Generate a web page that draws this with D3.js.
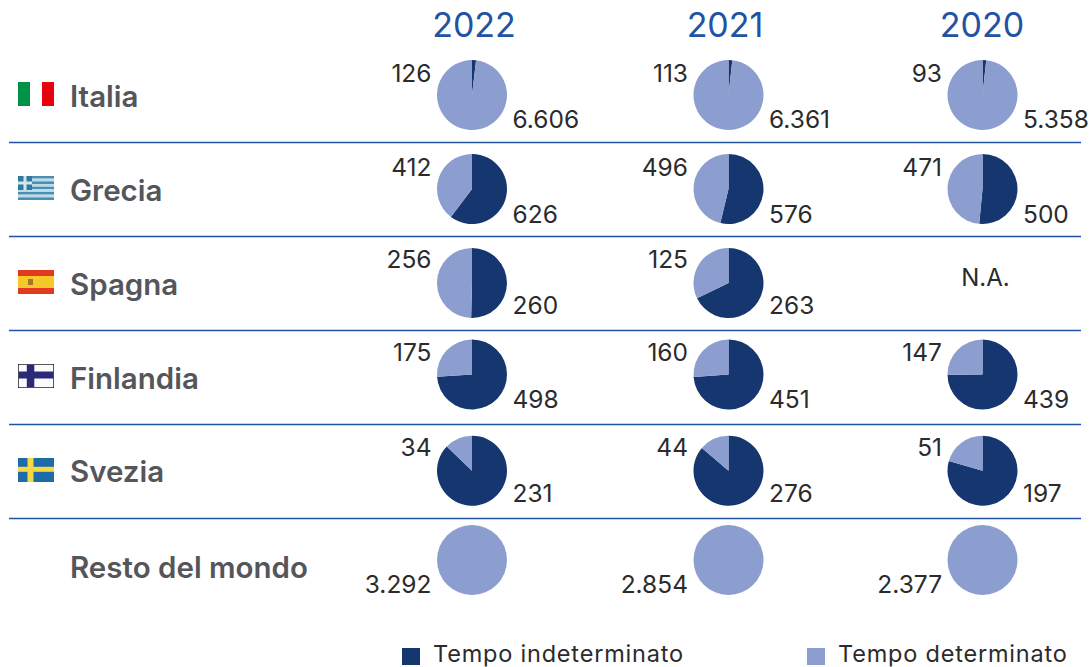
<!DOCTYPE html>
<html><head><meta charset="utf-8">
<script src="https://cdn.jsdelivr.net/npm/d3@7"></script>
<style>html,body{margin:0;padding:0;background:#fff;overflow:hidden}svg{display:block}text{font-family:Inter,"Open Sans",sans-serif}</style>
</head><body><svg id="c" width="1091" height="667"></svg>
<script>
const years = ["2022","2021","2020"];
const countries = ["Italia","Grecia","Spagna","Finlandia","Svezia","Resto del mondo"];
const seriesNames = ["Tempo indeterminato","Tempo determinato"];
// [2022, 2021, 2020]
const indeterminato = [
  [126,113,93],[626,576,500],[260,263,null],[498,451,439],[231,276,197],[0,0,0]];
const determinato = [
  [6606,6361,5358],[412,496,471],[256,125,null],[175,160,147],[34,44,51],[3292,2854,2377]];

const DARK="#15366f", LIGHT="#8c9ecf", BLUE="#2152a3", GREY="#55565a", TXT="#2b2b2b";
const svg=d3.select("#c");
const fmt=d3.formatLocale({decimal:",",thousands:".",grouping:[3],currency:["",""]}).format(",d");
const x=d3.scaleOrdinal().domain(years).range([472,728.5,982.5]);
const y=d3.scaleOrdinal().domain(countries).range([95,189,283,374.5,470.7,560]);
const R=35;
const pie=d3.pie().sort(null).value(d=>d);
const arc=d3.arc().innerRadius(0).outerRadius(R);
const color=d3.scaleOrdinal().domain(seriesNames).range([DARK,LIGHT]);

const yrDx={"2022":2,"2021":-3.5,"2020":-0.5};
svg.selectAll(".yr").data(years).join("text").attr("class","yr")
  .attr("x",d=>x(d)+yrDx[d]).attr("y",37).attr("text-anchor","middle")
  .attr("font-size",34).attr("fill",BLUE).text(d=>d);

const seps=[142.5,236.5,330.5,424.5,518.5];
svg.selectAll(".sep").data(seps).join("line").attr("class","sep")
  .attr("x1",9).attr("x2",1081).attr("y1",d=>d).attr("y2",d=>d)
  .attr("stroke",BLUE).attr("stroke-width",1.4);

const labelDy={"Italia":12,"Grecia":12,"Spagna":12,"Finlandia":14,"Svezia":11,"Resto del mondo":17.5};
svg.selectAll(".ct").data(countries).join("text").attr("class","ct")
  .attr("x",70).attr("y",d=>y(d)+labelDy[d]).attr("font-size",29.5).attr("font-weight",600)
  .attr("fill",GREY).text(d=>d);

function flag(name,draw){const g=svg.append("g").attr("transform",`translate(18,${Math.round(y(name))-13+(name==="Finlandia"?2:0)})`);draw(g);}
const r=(g,a,b,w,h,f)=>g.append("rect").attr("x",a).attr("y",b).attr("width",w).attr("height",h).attr("fill",f);
flag("Italia",g=>{r(g,0,0,12,24,"#009246");r(g,24,0,12,24,"#e8000b");});
flag("Grecia",g=>{for(let i=0;i<9;i++)r(g,0,i*24/9,36,24/9,i%2?"#bcdbe8":"#4a8fb3");r(g,0,0,14,14,"#2f7ba0");r(g,5.5,0,3,14,"#d5e6ee");r(g,0,5.5,14,3,"#d5e6ee");});
flag("Spagna",g=>{r(g,0,0,36,24,"#e13a1e");r(g,0,6,36,12,"#f6c92b");r(g,10,9,5,6,"#a8722a");});
flag("Finlandia",g=>{r(g,0,0,36,24,"#111");r(g,.7,.7,34.6,22.6,"#fafaff");r(g,.7,7.5,34.6,7,"#2a2a78");r(g,8.8,.7,7.5,22.6,"#2a2a78");});
flag("Svezia",g=>{r(g,0,0,36,24,"#1f6aa8");r(g,0,8.8,36,5,"#f6d840");r(g,9.5,0,6,24,"#f6d840");});

const labDy={"Italia":[-13,33],"Grecia":[-13,34],"Spagna":[-15,31],"Finlandia":[-13.5,33],"Svezia":[-14.7,31.5],"Resto del mondo":[33,0]};
countries.forEach((c,ci)=>years.forEach((yr,yi)=>{
  const a=indeterminato[ci][yi], b=determinato[ci][yi];
  const cx=x(yr), cy=y(c);
  if(a===null){
    svg.append("text").attr("x",cx+3).attr("y",cy+3).attr("text-anchor","middle")
      .attr("font-size",24).attr("fill",TXT).text("N.A.");
    return;
  }
  const g=svg.append("g").attr("transform",`translate(${cx},${cy})`);
  g.selectAll("path").data(pie([a,b])).join("path").attr("d",arc)
    .attr("fill",(d,i)=>color(seriesNames[i]));
  const lab=(dx,dy,anchor,v)=>g.append("text").attr("x",dx).attr("y",dy).attr("text-anchor",anchor)
    .attr("font-size",24.5).attr("fill",TXT).text(fmt(v));
  const lx=-40.5, rx=40.5;
  const [d1,d2]=labDy[c];
  if(c==="Resto del mondo"){ lab(lx,d1,"end",b); return; }
  if(c==="Italia"){ lab(lx,d1,"end",a); lab(rx,d2,"start",b); }
  else { lab(lx,d1,"end",b); lab(rx,d2,"start",a); }
}));

const lgx=[402,807];
seriesNames.forEach((s,i)=>{
  r(svg,lgx[i],648,18,17,color(s));
  svg.append("text").attr("x",lgx[i]+31).attr("y",662).attr("font-size",23.5)
    .attr("letter-spacing",0.8).attr("fill",TXT).text(s);
});
</script></body></html>
